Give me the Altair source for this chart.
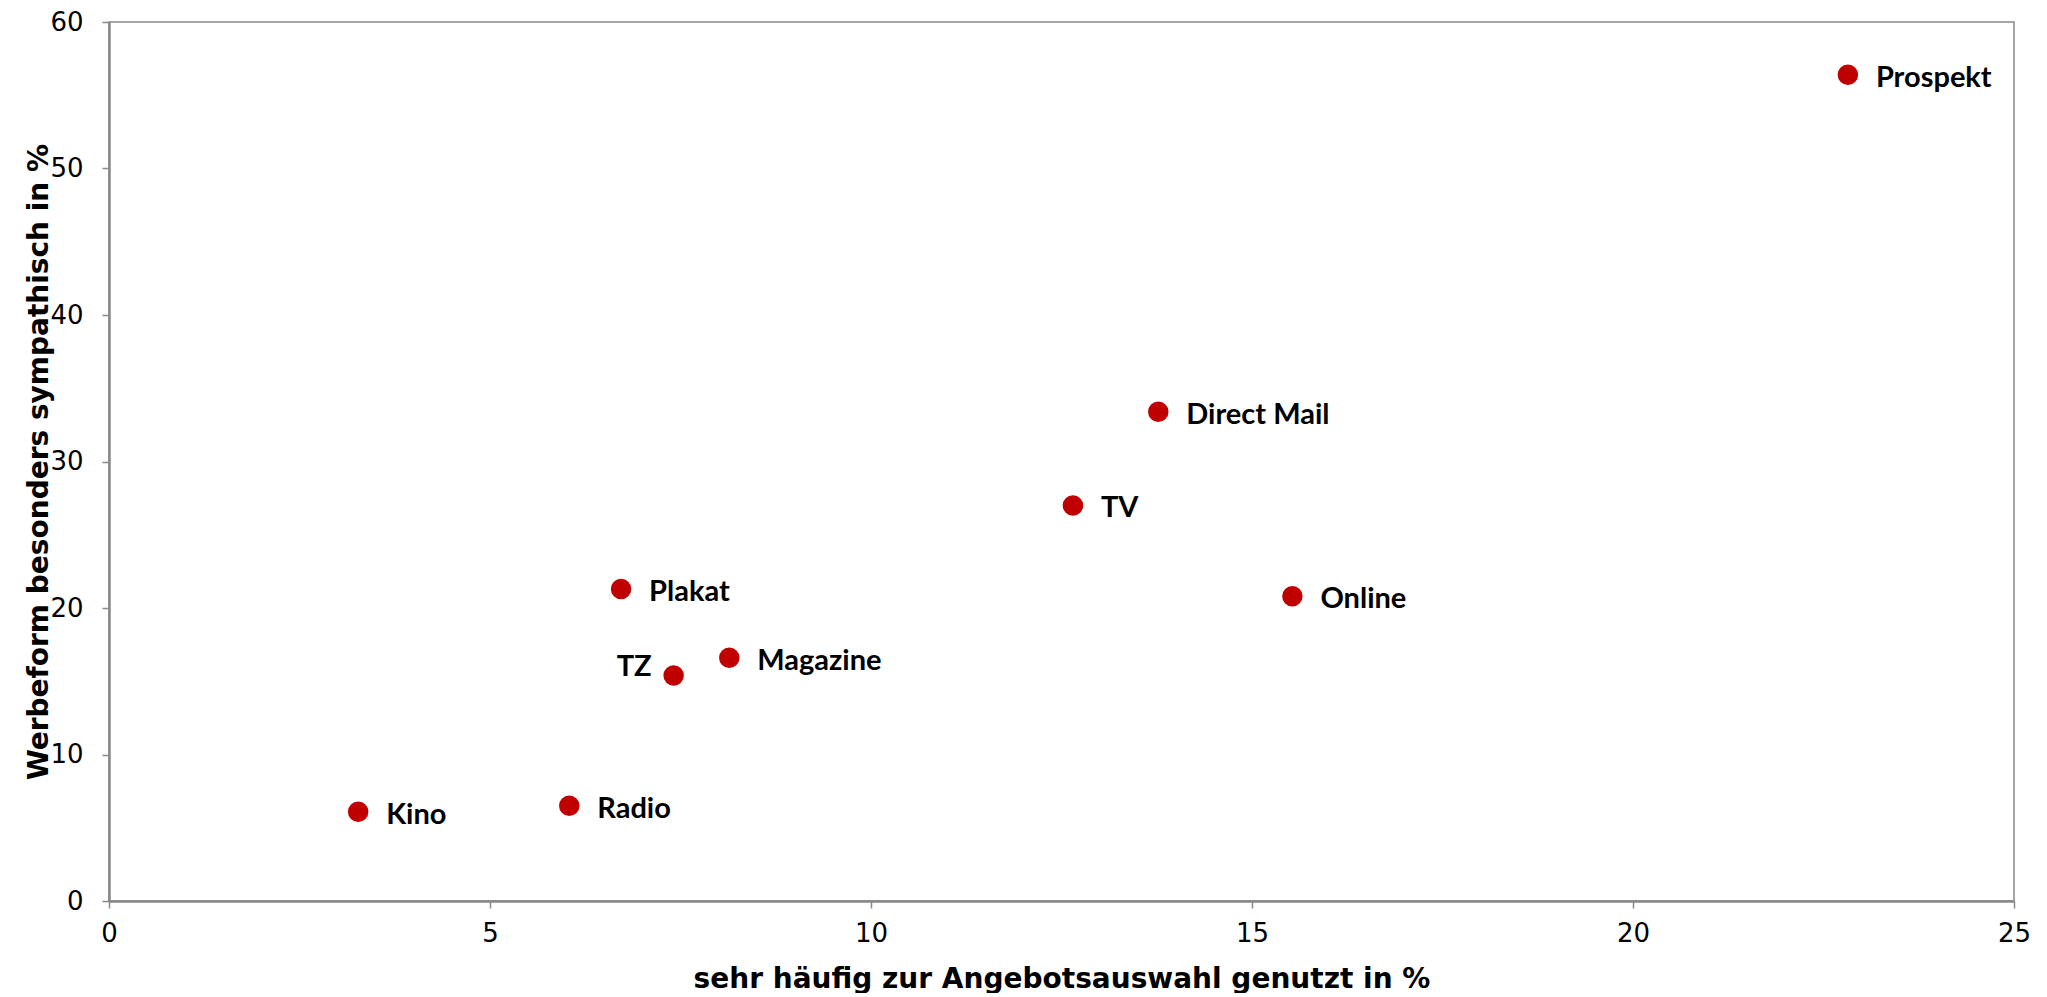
import altair as alt
import pandas as pd

# Data
medien = ["Prospekt", "Direct Mail", "TV", "Online", "Plakat", "Magazine", "TZ", "Radio", "Kino"]
genutzt = [22.82, 13.77, 12.65, 15.53, 6.72, 8.14, 7.41, 6.04, 3.27]
sympathisch = [56.4, 33.4, 27.0, 20.8, 21.3, 16.6, 15.4, 6.5, 6.1]
label_links = [False, False, False, False, False, False, True, False, False]

df = pd.DataFrame({
    "Medium": medien,
    "x": genutzt,
    "y": sympathisch,
    "links": label_links,
})

W, H = 1905, 879
AXIS_GRAY = "#888888"
TITLE_FONT = "DejaVu Sans"
TICK_FONT = "DejaVu Sans"

x_enc = alt.X(
    "x:Q",
    scale=alt.Scale(domain=[0, 25], nice=False, zero=True),
    axis=alt.Axis(
        values=[0, 5, 10, 15, 20, 25], format="d",
        title="sehr häufig zur Angebotsauswahl genutzt in %",
        titleFont=TITLE_FONT, titleFontSize=28, titleFontWeight="bold",
        titleColor="black",
        titleX=W / 2, titleY=78, titleBaseline="middle", titleAlign="center",
        labelFont=TICK_FONT, labelFontSize=26, labelColor="black",
        labelPadding=12, tickSize=7, tickColor=AXIS_GRAY, tickWidth=1.5,
        domainColor=AXIS_GRAY, domainWidth=2.5, grid=False,
        labelFlush=False,
    ),
)
y_enc = alt.Y(
    "y:Q",
    scale=alt.Scale(domain=[0, 60], nice=False, zero=True),
    axis=alt.Axis(
        values=[0, 10, 20, 30, 40, 50, 60], format="d",
        title="Werbeform besonders sympathisch in %",
        titleFont=TITLE_FONT, titleFontSize=28, titleFontWeight="bold",
        titleColor="black", titleAngle=-90,
        titleX=-70, titleY=H / 2, titleBaseline="middle", titleAlign="center",
        labelFont=TICK_FONT, labelFontSize=26, labelColor="black",
        labelPadding=19, tickSize=7, tickColor=AXIS_GRAY, tickWidth=1.5,
        domainColor=AXIS_GRAY, domainWidth=2.5, grid=False,
        labelFlush=False,
    ),
)

points = alt.Chart(df).mark_circle(size=420, color="#C00000", opacity=1).encode(
    x=x_enc, y=y_enc
)

labels_right = alt.Chart(df).transform_filter("!datum.links").mark_text(
    align="left", baseline="middle", dx=28, dy=3,
    font="Lato", fontSize=29, fontWeight="bold", color="black",
).encode(x="x:Q", y="y:Q", text="Medium:N")

labels_left = alt.Chart(df).transform_filter("datum.links").mark_text(
    align="right", baseline="middle", dx=-22, dy=-8,
    font="Lato", fontSize=29, fontWeight="bold", color="black",
).encode(x="x:Q", y="y:Q", text="Medium:N")

chart = alt.layer(points, labels_right, labels_left).properties(
    width=W, height=H,
    autosize=alt.AutoSizeParams(type="none"),
    padding={"left": 101, "top": 14, "right": 25, "bottom": 92},
    background="white",
).configure_view(
    stroke=AXIS_GRAY, strokeWidth=1.5
)

chart.save("out.html", embed_options={"renderer": "svg", "actions": False})
